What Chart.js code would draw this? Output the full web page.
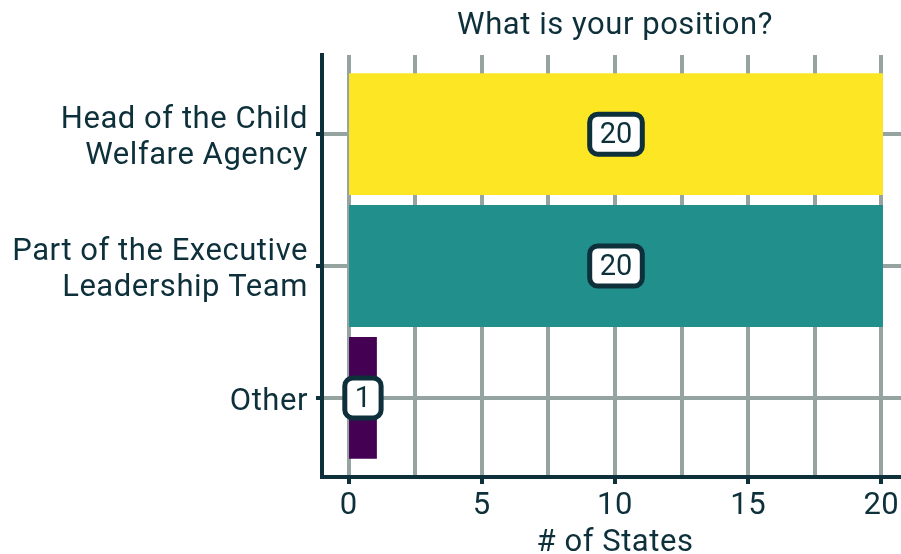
<!DOCTYPE html>
<html>
<head>
<meta charset="utf-8">
<script src="https://cdn.jsdelivr.net/npm/chart.js@4/dist/chart.umd.min.js"></script>
<style>
  html, body { margin: 0; padding: 0; background: #fff; overflow: hidden; }
  #wrap { width: 908px; height: 554px; }
</style>
</head>
<body>
<div id="wrap"><canvas id="positionChart"></canvas></div>
<script>
const categories = [
  ["Head of the Child", "Welfare Agency"],
  ["Part of the Executive", "Leadership Team"],
  ["Other"],
];
const states = [20, 20, 1];
const barColors = ["#fde725", "#21908c", "#440154"];
const xTicks = [0, 5, 10, 15, 20];

const ink = "#0d303b";
const gridGray = "#95a3a1";
const fontFamily = "Roboto, 'Noto Sans', sans-serif";

// slightly open tracking for every piece of text on the canvas
const tracking = {
  id: "tracking",
  beforeDraw(chart) {
    chart.ctx.letterSpacing = "0.55px";
  },
};

// white rounded boxes with the count, centred on each bar
const valueBoxes = {
  id: "valueBoxes",
  afterDatasetsDraw(chart) {
    const { ctx } = chart;
    const meta = chart.getDatasetMeta(0);
    ctx.save();
    ctx.letterSpacing = "0px";
    ctx.font = `29px ${fontFamily}`;
    ctx.textAlign = "center";
    ctx.textBaseline = "middle";
    meta.data.forEach((bar, i) => {
      const text = String(states[i]);
      const cx = (bar.x + bar.base) / 2;
      const cy = bar.y;
      const w = ctx.measureText(text).width + 20;
      const h = 40;
      ctx.beginPath();
      ctx.roundRect(cx - w / 2, cy - h / 2, w, h, 8);
      ctx.fillStyle = "#fff";
      ctx.fill();
      ctx.lineWidth = 5;
      ctx.strokeStyle = ink;
      ctx.stroke();
      ctx.fillStyle = ink;
      ctx.fillText(text, cx, cy + 2);
    });
    ctx.restore();
  },
};

// chart title and x axis title, centred over the plot panel
const titles = {
  id: "titles",
  afterDraw(chart) {
    const { ctx, chartArea } = chart;
    const mid = (chartArea.left + chartArea.right) / 2;
    ctx.save();
    ctx.fillStyle = ink;
    ctx.font = `31px ${fontFamily}`;
    ctx.textAlign = "center";
    ctx.textBaseline = "alphabetic";
    ctx.fillText("What is your position?", mid, 34);
    ctx.fillText("# of States", mid, 551);
    ctx.restore();
  },
};

new Chart(document.getElementById("positionChart"), {
  type: "bar",
  data: {
    datasets: [{
      data: categories.map((c, i) => ({ x: states[i], y: i })),
      backgroundColor: barColors,
      borderWidth: 0,
      inflateAmount: 1.6,
      barPercentage: 0.9,
      categoryPercentage: 1,
    }],
  },
  plugins: [tracking, valueBoxes, titles],
  options: {
    indexAxis: "y",
    responsive: true,
    maintainAspectRatio: false,
    animation: false,
    layout: { padding: { top: 55, left: 0, right: 0, bottom: 0 } },
    plugins: { legend: { display: false }, tooltip: { enabled: false }, title: { display: false } },
    scales: {
      x: {
        type: "linear",
        min: -1,
        max: 21,
        afterFit: (scale) => { scale.height = 77; },
        ticks: {
          stepSize: 2.5,
          includeBounds: false,
          autoSkip: false,
          maxRotation: 0,
          padding: 4,
          color: ink,
          font: { family: fontFamily, size: 31 },
          callback: (v) => (xTicks.includes(v) ? String(v) : ""),
        },
        grid: {
          color: gridGray,
          lineWidth: 4,
          drawTicks: true,
          tickLength: 7,
          tickWidth: 4,
          tickColor: (c) => (c.tick && xTicks.includes(c.tick.value) ? ink : "rgba(0,0,0,0)"),
        },
        border: { display: true, color: ink, width: 4 },
      },
      y: {
        type: "linear",
        offset: false,
        reverse: true,
        min: -0.6,
        max: 2.6,
        afterFit: (scale) => { scale.width = 322; },
        ticks: {
          stepSize: 1,
          includeBounds: false,
          autoSkip: false,
          padding: 8,
          labelOffset: 4,
          color: ink,
          font: { family: fontFamily, size: 31, lineHeight: 1.16 },
          callback: (v) => categories[v] || "",
        },
        grid: {
          offset: false,
          color: gridGray,
          lineWidth: 4,
          drawTicks: true,
          tickLength: 6,
          tickWidth: 4,
          tickColor: ink,
        },
        border: { display: true, color: ink, width: 4 },
      },
    },
  },
});
</script>
</body>
</html>
